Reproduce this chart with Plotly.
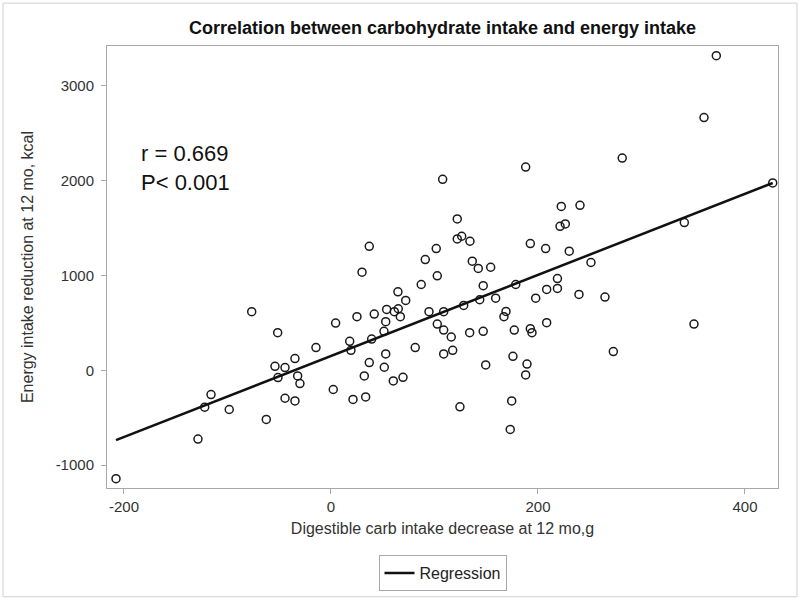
import plotly.graph_objects as go

# Data
carb_decrease = [-76.6, -51.5, 4.5, -14.5, -34.8, -54.1, -44.4, -51.2, -32.2, -30.0,
                 -115.9, -122.0, -98.3, -44.4, -34.8, 2.2, -62.5, -128.5, -207.7,
                 142.3, 154.3, 30.0, 102.7, 87.2, 147.1, 178.5, 218.8, 218.8, 64.7,
                 72.2, 143.7, 159.1, 197.8, 208.4, 25.1, 41.8, 53.8, 61.2, 65.0, 67.0,
                 52.9, 94.7, 108.9, 128.2, 169.1, 167.1, 51.2, 39.3, 18.1, 19.3, 102.7,
                 108.9, 116.2, 134.0, 147.1, 177.1, 192.6, 194.2, 208.4, 81.4, 52.9,
                 108.9, 117.6, 37.0, 51.5, 32.2, 60.2, 69.6, 149.5, 175.8, 189.4, 188.1,
                 21.3, 33.5, 124.6, 174.6, 173.2, 251.2, 239.6, 264.7, 350.7, 272.8,
                 188.1, 107.9, 122.0, 37.0, 122.0, 126.3, 134.3, 101.7, 91.1, 192.6,
                 207.4, 136.5, 372.3, 360.4, 281.4, 222.5, 240.6, 221.3, 226.4, 230.2,
                 341.4, 426.8]
energy_reduction = [618, 397, 498, 239, 123, 42, 28, -77, -60, -140,
                    -256, -389, -414, -295, -323, -203, -519, -726, -1144,
                    1074, 1087, 1035, 997, 905, 892, 905, 968, 863, 828,
                    737, 744, 761, 761, 853, 565, 593, 642, 618, 649, 565,
                    513, 618, 618, 684, 621, 565, 411, 329, 305, 211, 487,
                    424, 351, 397, 411, 424, 439, 397, 502, 239, 172,
                    172, 211, 81, 32, -60, -113, -74, 56, 147, 66, -49,
                    -308, -281, -386, -323, -624, 1137, 800, 772, 487, 197,
                    2144, 2014, 1597, 1308, 1386, 1414, 1361, 1284, 1168, 1337,
                    1284, 1151, 3319, 2666, 2239, 1729, 1740, 1519, 1544, 1256,
                    1558, 1976]

reg_intercept = 151.0
reg_slope = 4.276

x_ticks = [-200, 0, 200, 400]
x_tick_labels = ["-200", "0", "200", "400"]
y_ticks = [-1000, 0, 1000, 2000, 3000]
y_tick_labels = ["-1000", "0", "1000", "2000", "3000"]

reg_x = [min(carb_decrease), max(carb_decrease)]
reg_y = [reg_intercept + reg_slope * v for v in reg_x]

FONT = "Liberation Sans, Arial, sans-serif"
GRID = "#a8a8a8"

fig = go.Figure()
fig.add_trace(go.Scatter(
    x=carb_decrease, y=energy_reduction, mode="markers",
    marker=dict(symbol="circle-open", size=8, color="#1a1a1a",
                line=dict(width=1.5, color="#1a1a1a")),
    showlegend=False, hoverinfo="x+y"))
fig.add_trace(go.Scatter(
    x=reg_x, y=reg_y, mode="lines", name="Regression",
    line=dict(color="#111111", width=2.5)))

fig.update_layout(
    width=800, height=602,
    margin=dict(l=107, r=22, t=46, b=113),
    paper_bgcolor="white", plot_bgcolor="white",
    font=dict(family=FONT, color="#333333", size=15),
    title=dict(text="<b>Correlation between carbohydrate intake and energy intake</b>",
               x=(107 + 778) / 2 / 800, xanchor="center", y=1 - 28 / 602, yanchor="middle",
               font=dict(family=FONT, size=18, color="#111111")),
    xaxis=dict(range=[-216.4, 431.9], tickvals=x_ticks, ticktext=x_tick_labels,
               ticks="outside", ticklen=5,
               tickcolor=GRID, showline=True, linecolor=GRID, mirror=True,
               showgrid=False, zeroline=False,
               tickfont=dict(size=15, color="#333333"),
               title=dict(text="Digestible carb intake decrease at 12 mo,g",
                          font=dict(size=16, color="#333333"), standoff=8)),
    yaxis=dict(range=[-1242, 3421], tickvals=y_ticks, ticktext=y_tick_labels,
               ticks="outside", ticklen=5, ticklabelstandoff=4,
               tickcolor=GRID, showline=True, linecolor=GRID, mirror=True,
               showgrid=False, zeroline=False,
               tickfont=dict(size=15, color="#333333"),
               title=dict(text="Energy intake reduction at 12 mo, kcal",
                          font=dict(size=16, color="#333333"), standoff=18)),
    legend=dict(orientation="h", x=0.5, xanchor="center", y=-0.19, yanchor="middle",
                bordercolor=GRID, borderwidth=1, bgcolor="white",
                font=dict(size=16, color="#222222")),
    annotations=[dict(text="r = 0.669<br>P< 0.001", xref="paper", yref="paper",
                      x=0.0477, y=0.724, xanchor="left", yanchor="middle",
                      align="left", showarrow=False,
                      font=dict(family=FONT, size=22, color="#111111"))],
    shapes=[dict(type="rect", xref="paper", yref="paper",
                 x0=(3 - 107) / 671, x1=(797 - 107) / 671,
                 y0=(489 - 598) / 443, y1=(489 - 3) / 443,
                 line=dict(color="#d0d0d0", width=1), fillcolor="rgba(0,0,0,0)",
                 layer="below")],
)

fig.write_html("out.html", config={"displayModeBar": False},
               post_script="document.body.style.margin='0';document.body.style.overflow='hidden';")
